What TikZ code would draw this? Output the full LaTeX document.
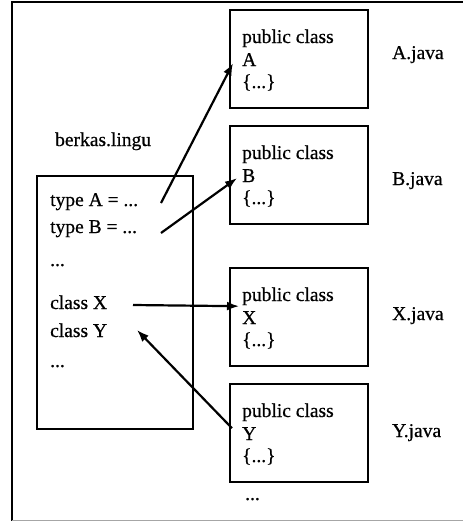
\documentclass[tikz,border=0pt]{standalone}
\usepackage{fontspec}
\setmainfont{Liberation Serif}[FakeBold=0.6]
\usetikzlibrary{arrows.meta}
\tikzset{
  filebox/.style={draw, line width=2.4pt, minimum width=138pt, minimum height=98pt, inner sep=0pt, anchor=north west},
  code/.style={anchor=base west, inner sep=0pt, font=\fontsize{19.5}{22.5}\selectfont},
  link/.style={line width=2.2pt, -{Latex[length=12pt,width=9pt]}}
}
\begin{document}
\begin{tikzpicture}[x=1pt,y=-1pt]
\useasboundingbox (0,0) rectangle (463,522);

% page frame
\draw[line width=2.8pt] (463,2) -- (12,2) -- (12,521);
\draw[black!35, line width=1pt] (12,520) -- (463,520);

% source file
\node[code] (srcname) at (55,146) {berkas.lingu};
\node[filebox, minimum width=156pt, minimum height=253pt] (src) at (36,175) {};
\node[code] (typeA) at (50,206) {type A = ...};
\node[code] (typeB) at (50,233) {type B = ...};
\node[code] (dotsA) at (50,266) {...};
\node[code] (classX) at (50,309) {class X};
\node[code] (classY) at (50,337) {class Y};
\node[code] (dotsB) at (50,367) {...};

% generated java files
\foreach \n/\top/\jy in {A/9/59, B/125/185, X/267/320, Y/383/437}{
  \node[filebox] (box\n) at (229,\top) {};
  \node[code] (pub\n) at (242,\top+34) {public class};
  \node[code] (cls\n) at (242,\top+57) {\n};
  \node[code] (body\n) at (242,\top+79) {\{...\}};
  \node[code] (java\n) at (392,\jy) {\n.java};
}
\node[code] (dotsC) at (245,500) {...};

% connectors
\coordinate (fromA) at (161,203);
\coordinate (fromB) at (161,233);
\coordinate (fromX) at (133,305);
\coordinate (toY) at (137,330);
\draw[link] (fromA) -- ([xshift=4pt,yshift=-4pt]boxA.west);
\draw[link] (fromB) -- ([xshift=8pt,yshift=-3pt]boxB.west);
\draw[link] (fromX) -- ([xshift=10pt,yshift=11pt]boxX.west);
\draw[link] ([xshift=3pt,yshift=5pt]boxY.west) -- (toY);
\end{tikzpicture}
\end{document}
